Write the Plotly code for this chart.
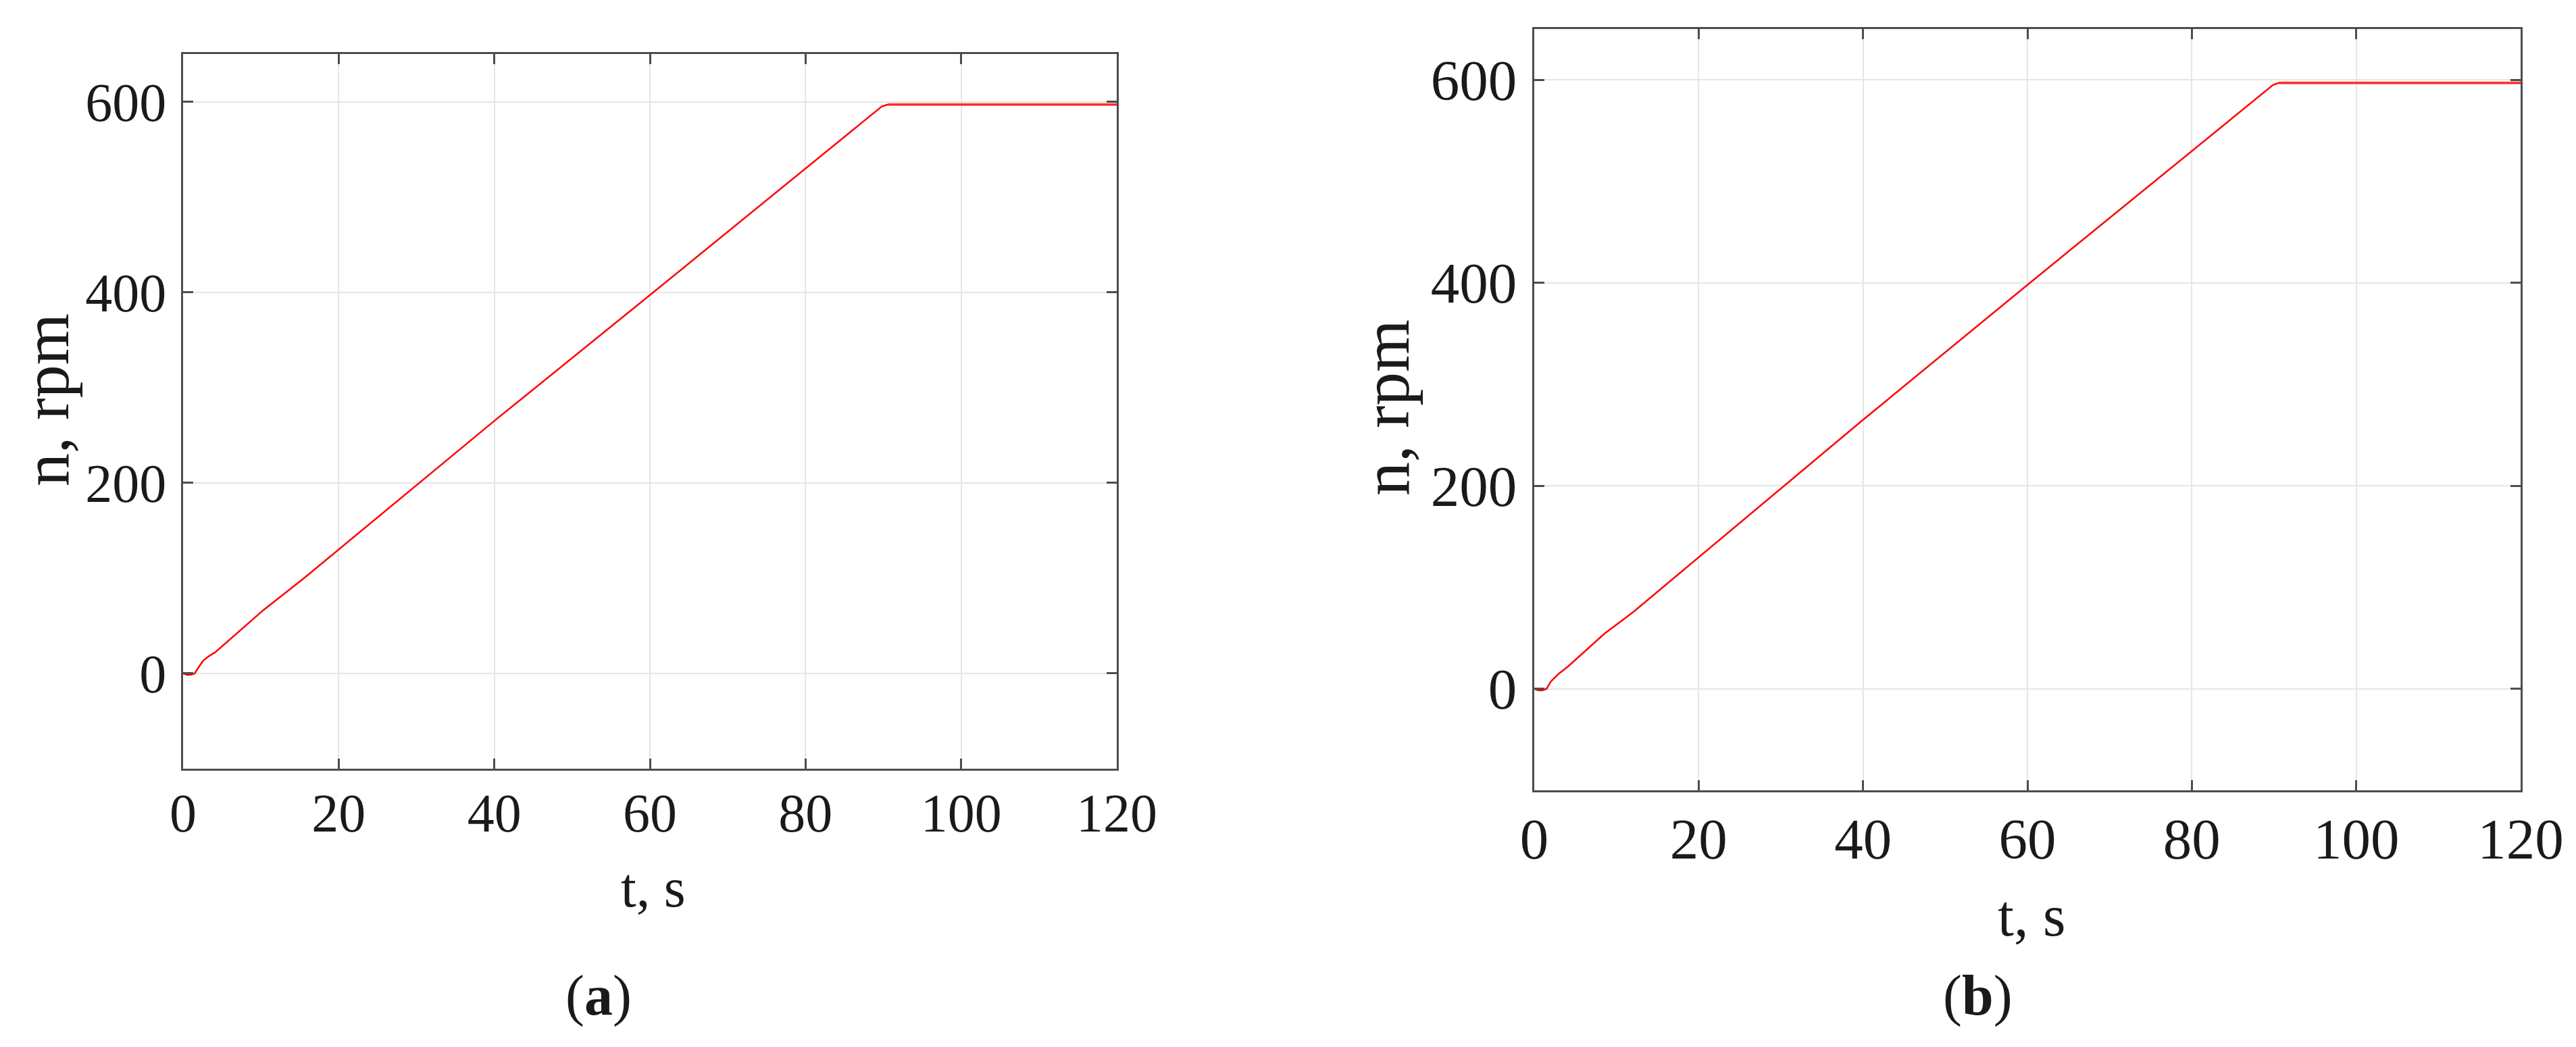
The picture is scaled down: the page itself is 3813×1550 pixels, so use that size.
import plotly.graph_objects as go

# ---- data ----
t_a = [0, 0.5, 1.0, 1.5, 2.0, 2.6, 3.3, 4.1, 10.4, 15.4, 40, 60.3, 89.8, 90.6, 120]
n_a = [0, -1.5, -1.5, 0, 6.5, 13.5, 18, 22, 67, 99, 265, 399, 595, 597, 597]

t_b = [0, 0.5, 1.0, 1.5, 2.0, 3.0, 4.1, 8.5, 12.1, 40, 60, 89.9, 90.6, 120]
n_b = [0, -1.5, -1.5, 0, 7, 15, 22, 54, 76, 265, 398, 595, 597, 597]

x_ticks = [0, 20, 40, 60, 80, 100, 120]
y_ticks = [0, 200, 400, 600]
x_range = [0, 120]
y_range = [-100, 650]

W, H = 3813, 1550
FONT = "Liberation Serif"
AX = "#4d4d4d"
GRID = "#e6e6e6"

fig = go.Figure()

def add_curve(t, n, xa, ya):
    fig.add_trace(go.Scatter(x=t, y=n, mode="lines", xaxis=xa, yaxis=ya,
                             line=dict(color="#ff0000", width=2.5),
                             showlegend=False, hoverinfo="skip"))
    # plateau segment appears thicker / lighter in the reference
    tp = [tt for tt, nn in zip(t, n) if tt >= 90]
    npl = [nn for tt, nn in zip(t, n) if tt >= 90]
    fig.add_trace(go.Scatter(x=tp, y=npl, mode="lines", xaxis=xa, yaxis=ya,
                             line=dict(color="rgba(255,60,60,0.6)", width=4.5),
                             showlegend=False, hoverinfo="skip"))

add_curve(t_a, n_a, "x", "y")
add_curve(t_b, n_b, "x2", "y2")

def px(x):
    return x / W

def py(y):
    return 1 - y / H

def axis_common(fs):
    return dict(showline=True, linecolor=AX, linewidth=2.5, mirror="ticks",
                ticks="inside", ticklen=15, tickwidth=2.5, tickcolor=AX,
                showgrid=True, gridcolor=GRID, gridwidth=2, zeroline=False,
                automargin=False,
                tickfont=dict(family=FONT, size=fs, color="#1a1a1a"))

fsa, fsb = 80, 85
fig.update_layout(
    width=W, height=H, autosize=False,
    margin=dict(l=0, r=0, t=0, b=0, pad=0),
    paper_bgcolor="white", plot_bgcolor="white",
    xaxis=dict(domain=[px(263), px(1645)], range=x_range, tickvals=x_ticks,
               anchor="y", ticklabelstandoff=-6, **axis_common(fsa)),
    yaxis=dict(domain=[py(1130), py(72)], range=y_range, tickvals=y_ticks,
               anchor="x", ticklabelstandoff=6, **axis_common(fsa)),
    xaxis2=dict(domain=[px(2263), px(3723)], range=x_range, tickvals=x_ticks,
                anchor="y2", ticklabelstandoff=-4, **axis_common(fsb)),
    yaxis2=dict(domain=[py(1162), py(35)], range=y_range, tickvals=y_ticks,
                anchor="x2", ticklabelstandoff=6, **axis_common(fsb)),
)

def ann(text, x, y, size, angle=0):
    fig.add_annotation(text=text, x=px(x), y=py(y), xref="paper", yref="paper",
                       xanchor="center", yanchor="middle", showarrow=False,
                       textangle=angle, font=dict(family=FONT, size=size, color="#1a1a1a"))

ann("t, s", 959, 1306, 82)
ann("t, s", 2999, 1348, 86)
ann("n, rpm", 60, 584, 98, -90)
ann("n, rpm", 2043, 596, 100, -90)
ann("(<b>a</b>)", 878, 1466, 84)
ann("(<b>b</b>)", 2919, 1466, 84)

fig.write_html("out.html")
